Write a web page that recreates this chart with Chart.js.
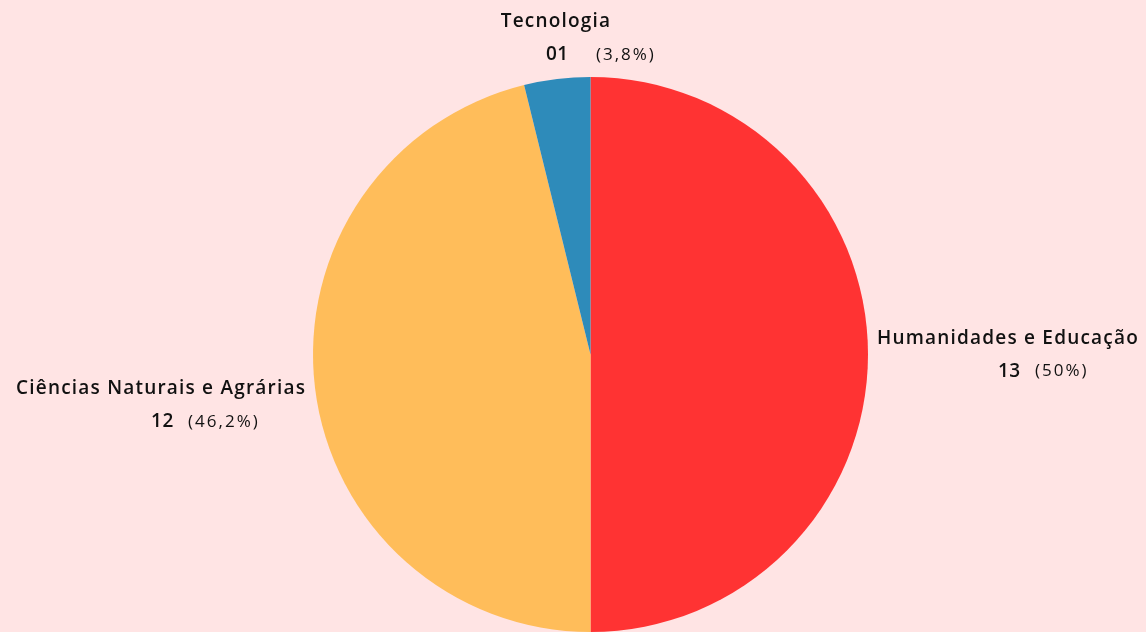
<!DOCTYPE html>
<html>
<head>
<meta charset="utf-8">
<script src="https://cdn.jsdelivr.net/npm/chart.js@4/dist/chart.umd.min.js"></script>
<style>
  html, body { margin: 0; padding: 0; background: #ffe4e4; }
  #wrap { width: 1146px; height: 632px; }
</style>
</head>
<body>
<div id="wrap"><canvas id="pieCanvas"></canvas></div>
<script>
const areas = ["Humanidades e Educação", "Ciências Naturais e Agrárias", "Tecnologia"];
const counts = [13, 12, 1];
const sliceColors = ["#ff3333", "#ffbd5a", "#2e8bba"];

const total = counts.reduce((a, b) => a + b, 0);

function pctText(v) {
  let p = (v / total * 100).toFixed(1);
  if (p.endsWith(".0")) p = p.slice(0, -2);
  return "(" + p.replace(".", ",") + "%)";
}

// labels around the pie: name on top, count + percent underneath
const outerLabels = {
  id: "outerLabels",
  afterDatasetsDraw(chart) {
    const ctx = chart.ctx;
    const arcs = chart.getDatasetMeta(0).data;
    arcs.forEach((arc, i) => {
      const mid = (arc.startAngle + arc.endAngle) / 2;
      const dx = Math.cos(mid), dy = Math.sin(mid);
      const r = arc.outerRadius + 9;
      const ax = arc.x + dx * r, ay = arc.y + dy * r;

      ctx.save();
      ctx.fillStyle = "#111";
      ctx.textBaseline = "middle";
      ctx.letterSpacing = "1.2px";
      ctx.font = "600 19px 'Open Sans'";
      const name = areas[i];
      const w = ctx.measureText(name).width;

      let left, top;
      if (Math.abs(dx) > Math.abs(dy)) {
        left = dx > 0 ? ax : ax - w;
        top = ay - 26 + dy * 130;
      } else {
        left = ax - w / 2;
        top = dy < 0 ? ay - 58 : ay + 4;
      }
      ctx.textAlign = "left";
      ctx.fillText(name, left, top + 10);

      const cx = left + w / 2 - 10;
      ctx.letterSpacing = "0.5px";
      ctx.font = "600 19px 'Open Sans'";
      ctx.fillText(String(counts[i]).padStart(2, "0"), cx, top + 43);
      ctx.letterSpacing = "2px";
      ctx.font = "500 17px 'Open Sans'";
      ctx.fillText(pctText(counts[i]), cx + (counts[i] < 10 ? 50 : 37), top + 43);
      ctx.restore();
    });
  }
};

new Chart(document.getElementById("pieCanvas"), {
  type: "pie",
  data: {
    labels: areas,
    datasets: [{
      data: counts,
      backgroundColor: sliceColors,
      borderWidth: 0
    }]
  },
  options: {
    responsive: true,
    maintainAspectRatio: false,
    animation: false,
    layout: { padding: { top: 77, left: 35, right: 0, bottom: 0 } },
    plugins: {
      legend: { display: false },
      tooltip: { enabled: false }
    }
  },
  plugins: [outerLabels]
});
</script>
</body>
</html>
